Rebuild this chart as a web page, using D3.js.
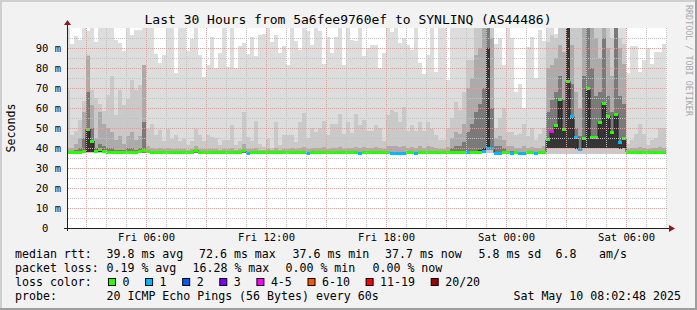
<!DOCTYPE html>
<html>
<head>
<meta charset="utf-8">
<script src="https://cdn.jsdelivr.net/npm/d3@7"></script>
<style>
  body { margin: 0; background: #f2f2f2; }
  svg { display: block; }
  text { font-family: "DejaVu Sans Mono", monospace; fill: #000; }
</style>
</head>
<body>
<div id="chart"></div>
<script>
// ---- data: one value per 12 minute slot, starting Fri 02:00 (ms) ----
const rttMin = [
  37.2,37.2,37.3,37.3,37.3,37.4,37.4,37.3,37.3,37.3,
  37.3,37.3,37.3,37.3,37.3,37.3,37.3,37.3,37.3,37.3,
  37.3,37.3,37.3,37.3,37.3,37.3,37.3,37.3,37.3,37.3,
  37.3,37.3,37.3,37.3,37.3,37.3,37.3,37.3,37.3,37.3,
  37.3,37.3,37.3,37.3,37.3,37.2,37.3,37.3,37.3,37.3,
  37.3,37.3,37.3,37.3,37.3,37.3,37.3,37.3,37.3,37.3,
  37.2,37.3,37.3,37.3,37.3,37.3,37.3,37.3,37.3,37.3,
  37.3,37.3,37.3,37.2,37.3,37.3,37.3,37.3,37.3,37.3,
  37.3,37.2,37.2,37.2,37.2,37.3,37.3,37.2,37.3,37.3,
  37.3,37.3,37.3,37.3,37.3,37.3,37.3,37.3,37.3,37.3,
  37.2,37.3,37.3,37.3,37.3,37.3,37.3,37.2,37.2,37.3,
  37.3,37.2,37.3,37.2,37.2,37.3,37.3,37.2,37.3,37.3,
  37.0,37.0,37.0,37.0,37.0,37.0,37.0,37.0,37.0,37.0,
  37.0,37.0,37.0,37.0,37.0,37.0,37.0,37.0,37.0,37.0,
  37.3,37.3,37.3,37.3,37.3,37.3,37.3,37.3,37.3,37.3
];
const rttMax = [
  100,92,96,94,100,98.5,100,93,100,100,
  100,100,94,92.5,88.5,100,96.5,99,99,100,
  100,100,87,82.5,86.5,100,100,77.5,100,100,
  88.5,94.5,100,86.5,75.5,81.5,95.5,80,87.5,100,
  80.5,100,80,91,92.5,87,95.5,86,96.5,97,
  100,93,96.5,87.5,91,81.5,100,93.5,89,100,
  98.5,91.5,100,98.5,82,95.5,87.5,95.5,100,81.5,
  100,94,93.5,100,86,90,91.5,91.5,80,87.5,
  100,98,100,92.5,95,91.5,89,100,82.5,77,
  86.5,100,78,100,100,74,100,100,100,100,
  100,100,100,100,100,100,100,92,95,81.5,
  100,95,68,72,60,90.5,95.5,75,99,93.5,
  100,100,97,100,100,100,100,100,100,100,
  100,100,100,100,100,100,100,100,100,100,
  77.5,91,91,78,84,90,82,88,88,92
];
const rttQ90 = [
  69,46.5,48.5,54,63.5,86.5,69,65,62,58.5,
  66.5,76,56.5,69,61.5,64.5,74,69,71.5,81.5,
  49.5,52,46.5,49,43.5,49.5,44.5,46.5,43.5,44.5,
  41.5,43.5,49.5,46.5,43.5,46.5,45.5,45,41.5,44,
  44,51.5,41.5,43.5,58,45.5,43.5,53.5,42,40.5,
  44.5,40,53,41.5,46.5,46.5,46.5,43,53,57.5,
  45,50,48,50,53.5,46.5,52,52,57,47,
  53,47.5,57,51.5,54,48.5,48.5,51.5,50,43.5,
  56.5,59,58,53,60.5,48.5,51.5,48.5,53,48.5,
  53,49.5,46.5,44,44,50,55,63,59,68,
  84,84,100,100,100,100,100,50,55,60,
  48,48,46.5,47,52,46,50,44,47,50,
  93,96.5,95,100,100,100,100,100,100,100,
  100,100,100,100,100,100,95,100,95,92,
  42,44,47,52,47,41.5,44,45,50,50
];
const rttQ75 = [
  40,40,42,45,58,86,61.5,45,58,52,
  50,48,44,46,42,46,48,44,46,81.5,
  41,40,39.5,40,39.5,40,39.5,39.5,39.5,39.5,
  39,39.5,41,39.5,39.5,39.5,39.5,39.5,39,39.5,
  39.5,40,39,39.5,42,39.5,39.5,40,39,39,
  39.5,39,40,39,39.5,39.5,40,39.5,40,40.5,
  39.5,40,40,40,40.5,39.5,40,40,40.5,39.5,
  40,40,40.5,40,40.5,40,40,40.5,40,39.5,
  41,41,41,40.5,41,40,40.5,40,41,40,
  41,40.5,40,39.5,39.5,40.5,45,48,47,52,
  70,75,86.5,90,100,100,95,45,46,44,
  41,41,40,40,41,40,40.5,40,40,41,
  80,81.5,85,91.5,88,100,91.5,68,60,100,
  100,100,95,85,100,90,76,100,90,82,
  39.5,40,40,40.5,40,39.5,40,40,40.5,40
];
const rttQ60 = [
  38,38,39,40,45,68,50,40,42,41,
  40,40,39,39,39,40,40,39,40,53,
  38.5,38.2,38.2,38.2,38.2,38.2,38.2,38.2,38.2,38.2,
  38.2,38.2,38.5,38.2,38.2,38.2,38.2,38.2,38.2,38.2,
  38.2,38.2,38.2,38.2,39.5,38.2,38.2,38.2,38.2,38.2,
  38.2,38.2,38.2,38.2,38.2,38.2,38.2,38.2,38.2,38.2,
  38.2,38.2,38.2,38.2,38.2,38.2,38.2,38.2,38.2,38.2,
  38.2,38.2,38.2,38.2,38.2,38.2,38.2,38.2,38.2,38.2,
  38.2,38.2,38.2,38.2,38.2,38.2,38.2,38.2,38.2,38.2,
  38.2,38.2,38.2,38.2,38.2,38.2,40,41,41,43,
  48,52,58,62,70,100,60,41,41,40,
  38.5,38.5,38.2,38.2,38.2,38.2,38.2,38.2,38.2,38.2,
  58,64,68,76,64,100,72,50,46,76,
  100,80,66,68,95,66,58,100,66,62,
  38.2,38.2,38.2,38.2,38.2,38.2,38.2,38.2,38.2,38.2
];
const rttQ55 = [
  37.5,37.5,37.5,37.5,38,49.5,43.5,38,39.5,37.5,
  37.5,37.5,37.5,37.5,37.5,37.5,37.5,37.5,37.5,37.5,
  37.5,37.5,37.5,37.5,37.5,37.5,37.5,37.5,37.5,37.5,
  37.5,37.5,37.5,37.5,37.5,37.5,37.5,37.5,37.5,37.5,
  37.5,37.5,37.5,37.5,37.5,37.5,37.5,37.5,37.5,37.5,
  37.5,37.5,37.5,37.5,37.5,37.5,37.5,37.5,37.5,37.5,
  37.5,37.5,37.5,37.5,37.5,37.5,37.5,37.5,37.5,37.5,
  37.5,37.5,37.5,37.5,37.5,37.5,37.5,37.5,37.5,37.5,
  37.5,37.5,37.5,37.5,37.5,37.5,37.5,37.5,37.5,37.5,
  37.5,37.5,37.5,37.5,37.5,37.5,37.5,37.5,37.5,37.5,
  37.5,37.5,38,39,40,90,40,37.5,37.5,37.5,
  37.5,37.5,37.5,37.5,37.5,37.5,37.5,37.5,37.5,37.5,
  44,48,51,64,49.5,100,55.7,45,39.5,45,
  70,45.3,45.5,53,62,56,48,57,43,45,
  37.5,37.5,37.5,37.5,37.5,37.5,37.5,37.5,37.5,37.5
];
// lower edge of the inner (darker) smoke bands
const rttLo = [
  37.4,37.4,37.6,37.6,37.8,38,38,37.8,37.8,37.6,
  37.5,37.5,37.5,37.5,37.5,37.5,37.5,37.5,37.5,37.5,
  37.5,37.5,37.5,37.5,37.5,37.5,37.5,37.5,37.5,37.5,
  37.5,37.5,37.5,37.5,37.5,37.5,37.5,37.5,37.5,37.5,
  37.5,37.5,37.5,37.5,37.5,37.5,37.5,37.5,37.5,37.5,
  37.5,37.5,37.5,37.5,37.5,37.5,37.5,37.5,37.5,37.5,
  37.5,37.5,37.5,37.5,37.5,37.5,37.5,37.5,37.5,37.5,
  37.5,37.5,37.5,37.5,37.5,37.5,37.5,37.5,37.5,37.5,
  37.5,37.5,37.5,37.5,37.5,37.5,37.5,37.5,37.5,37.5,
  37.5,37.5,37.5,37.5,37.5,37.5,37.5,37.5,37.5,37.5,
  37.5,37.5,38,38,39,39,39,37.5,37.5,37.5,
  37.5,37.5,37.5,37.5,37.5,37.5,37.5,37.5,37.5,37.5,
  40,40,40,40,40,40,40,39.5,39.5,40,
  40,40,40,40,40,40,40,40,39.5,40,
  37.5,37.5,37.5,37.5,37.5,37.5,37.5,37.5,37.5,37.5
];
const rttMedian = [
  37.7,37.7,38.0,38.0,38.2,49.5,43.5,38.5,39.5,38.2,
  38.0,38.0,38.0,38.0,38.0,38.0,38.0,38.0,38.2,39.0,
  38.4,38.0,38.0,38.0,38.0,38.0,38.0,38.0,38.0,38.0,
  38.0,38.0,38.8,38.0,38.0,38.0,38.0,38.0,38.0,38.0,
  38.0,38.0,38.0,38.0,38.6,37.5,38.0,38.0,38.0,38.0,
  38.0,38.0,38.0,38.0,38.0,38.0,38.0,38.0,38.0,38.0,
  37.5,38.0,38.0,38.0,38.0,38.0,38.0,38.0,38.0,38.0,
  38.0,38.0,38.0,37.5,38.0,38.0,38.0,38.0,38.0,38.0,
  38.0,37.5,37.5,37.5,37.5,38.0,38.0,37.5,38.0,38.0,
  38.0,38.0,38.0,38.0,38.0,38.0,38.0,38.0,38.0,38.0,
  37.7,38.0,38.0,38.0,38.5,39.8,39.8,37.5,37.5,38.0,
  38.0,37.5,38.0,37.5,37.5,38.0,38.0,37.5,38.0,38.0,
  44.2,48.2,51.2,64.3,49.5,73.2,55.7,45.2,39.3,44.8,
  69.7,45.3,45.5,53.0,62.3,56.0,47.8,56.8,42.7,45.0,
  38.0,38.0,38.0,38.0,38.0,38.0,38.0,38.0,38.0,38.0
];
// index into lossLabels / lossColors
const lossIdx = [
  0,0,0,0,0,0,0,0,0,0,
  0,0,0,0,0,0,0,0,0,0,
  0,0,0,0,0,0,0,0,0,0,
  0,0,0,0,0,0,0,0,0,0,
  0,0,0,0,0,1,0,0,0,0,
  0,0,0,0,0,0,0,0,0,0,
  1,0,0,0,0,0,0,0,0,0,
  0,0,0,1,0,0,0,0,0,0,
  0,1,1,1,1,0,0,1,0,0,
  0,0,0,0,0,0,0,0,0,0,
  1,0,0,0,1,1,1,1,1,0,
  0,1,0,1,1,0,0,1,0,0,
  0,4,0,0,0,0,1,1,1,0,
  0,0,0,0,0,0,0,0,1,0,
  0,0,0,0,0,0,0,0,0,0
];

const lossLabels = ["0", "1", "2", "3", "4-5", "6-10", "11-19", "20/20"];
const lossColors = ["#26ff00", "#00b8ff", "#0059ff", "#7e00ff", "#ff00ff", "#ff5500", "#ff0000", "#a10000"];

const yTickValues = [0, 10, 20, 30, 40, 50, 60, 70, 80, 90];
const yTickLabels = [" 0  ", "10 m", "20 m", "30 m", "40 m", "50 m", "60 m", "70 m", "80 m", "90 m"];

const titleText = "Last 30 Hours from 5a6fee9760ef to SYNLINQ (AS44486)";
const rttStats = ["39.8 ms avg", "72.6 ms max", "37.6 ms min", "37.7 ms now", "5.8 ms sd", "6.8", "am/s"];
const lossStats = ["0.19 % avg", "16.28 % max", "0.00 % min", "0.00 % now"];
const probeText = "20 ICMP Echo Pings (56 Bytes) every 60s";
const stampText = "Sat May 10 08:02:48 2025";

// ---- layout ----
const W = 697, H = 310;
const plot = { left: 67, top: 28, width: 600, height: 200 };

const tStart = new Date(2025, 4, 9, 2, 2, 48);
const tEnd = new Date(2025, 4, 10, 8, 2, 48);
const slotStart = new Date(2025, 4, 9, 2, 0, 0);
const slotMinutes = 12;

const x = d3.scaleTime().domain([tStart, tEnd]).range([plot.left, plot.left + plot.width]);
const y = d3.scaleLinear().domain([0, 100]).range([plot.top + plot.height, plot.top]);

const slots = rttMedian.map((m, i) => ({
    t0: d3.timeMinute.offset(slotStart, i * slotMinutes),
    t1: d3.timeMinute.offset(slotStart, (i + 1) * slotMinutes),
    i: i
}));

const svg = d3.select("#chart").append("svg")
    .attr("width", W)
    .attr("height", H);

// dotted grid patterns (1 on / 1 off)
const defs = svg.append("defs");
[["gH", "#c2c2c2", 2, 1], ["rH", "#e39c9c", 2, 1], ["gV", "#c2c2c2", 1, 2], ["rV", "#e39c9c", 1, 2]]
    .forEach(([id, col, pw, ph]) => {
        defs.append("pattern")
            .attr("id", id)
            .attr("patternUnits", "userSpaceOnUse")
            .attr("width", pw).attr("height", ph)
            .append("rect")
            .attr("width", 1).attr("height", 1)
            .attr("fill", col);
    });

// background + 3d border
svg.append("rect").attr("width", W).attr("height", H).attr("fill", "#f2f2f2");
svg.append("path").attr("d", `M0,0H${W}V2H2V${H}H0Z`).attr("fill", "#cfcfcf");
svg.append("path").attr("d", `M${W},${H}H0V${H - 2}H${W - 2}V0H${W}Z`).attr("fill", "#9e9e9e");

// canvas
svg.append("rect")
    .attr("x", plot.left).attr("y", plot.top)
    .attr("width", plot.width).attr("height", plot.height)
    .attr("fill", "#ffffff");

svg.append("clipPath").attr("id", "plotClip")
    .append("rect")
    .attr("x", plot.left).attr("y", plot.top)
    .attr("width", plot.width).attr("height", plot.height);

const g = svg.append("g").attr("clip-path", "url(#plotClip)");

// smoke bands, outer (light) to inner (dark)
const bands = [
    { hi: rttMax, lo: rttMin, color: "#dddddd" },
    { hi: rttQ90, lo: rttMin, color: "#c9c9c9" },
    { hi: rttQ75, lo: rttLo, color: "#ababab" },
    { hi: rttQ60, lo: rttLo, color: "#7a7a7a" },
    { hi: rttQ55, lo: rttLo, color: "#353535" }
];

bands.forEach(b => {
    g.append("g")
        .attr("shape-rendering", "crispEdges")
        .selectAll("rect")
        .data(slots)
        .enter().append("rect")
        .attr("x", d => x(d.t0))
        .attr("width", d => x(d.t1) - x(d.t0))
        .attr("y", d => y(b.hi[d.i]))
        .attr("height", d => Math.max(0, y(b.lo[d.i]) - y(b.hi[d.i])))
        .attr("fill", b.color);
});

// grid (drawn over the smoke, like rrdtool)
const gridG = svg.append("g").attr("shape-rendering", "crispEdges");
const hourTicks = x.ticks(d3.timeHour.every(1));
const majorHours = x.ticks(d3.timeHour.every(3)).map(d => +d);

gridG.selectAll(".vgrid")
    .data(hourTicks)
    .enter().append("rect")
    .attr("class", "vgrid")
    .attr("x", d => Math.round(x(d)))
    .attr("y", plot.top)
    .attr("width", 1)
    .attr("height", plot.height)
    .attr("fill", d => majorHours.includes(+d) ? "url(#rV)" : "url(#gV)");

const hGrid = d3.range(5, 100, 5);
gridG.selectAll(".hgrid")
    .data(hGrid)
    .enter().append("rect")
    .attr("class", "hgrid")
    .attr("x", plot.left)
    .attr("y", d => Math.round(y(d)))
    .attr("width", plot.width)
    .attr("height", 1)
    .attr("fill", d => d % 10 === 0 ? "url(#rH)" : "url(#gH)");

// median: black step line + loss coloured segments
const medPts = slots.map(d => [x(d.t0), y(rttMedian[d.i])]);
medPts.push([x(slots[slots.length - 1].t1), y(rttMedian[rttMedian.length - 1])]);
g.append("path")
    .attr("d", d3.line().curve(d3.curveStepAfter)(medPts))
    .attr("fill", "none")
    .attr("stroke", "#202020")
    .attr("stroke-width", 1);

g.append("g")
    .attr("shape-rendering", "crispEdges")
    .selectAll("rect")
    .data(slots)
    .enter().append("rect")
    .attr("x", d => x(d.t0))
    .attr("width", d => x(d.t1) - x(d.t0))
    .attr("y", d => y(rttMedian[d.i]) - 1.5)
    .attr("height", 3)
    .attr("fill", d => lossColors[lossIdx[d.i]]);

// axes
const yAxis = d3.axisLeft(y)
    .tickValues(yTickValues)
    .tickFormat((d, i) => yTickLabels[i])
    .tickSize(0)
    .tickPadding(6);

svg.append("g")
    .attr("transform", `translate(${plot.left},0)`)
    .call(yAxis)
    .call(a => a.select(".domain").remove())
    .selectAll("text")
    .attr("font-family", "DejaVu Sans Mono")
    .attr("font-size", "10.5px")
    .attr("fill", "#000")
    .style("white-space", "pre");

const xAxis = d3.axisBottom(x)
    .ticks(d3.timeHour.every(6))
    .tickFormat(d3.timeFormat("%a %H:%M"))
    .tickSize(0)
    .tickPadding(6);

svg.append("g")
    .attr("transform", `translate(0,${plot.top + plot.height})`)
    .call(xAxis)
    .call(a => a.select(".domain").remove())
    .selectAll("text")
    .attr("font-family", "DejaVu Sans Mono")
    .attr("font-size", "10.5px")
    .attr("fill", "#000");

// axis lines with arrows
const axisG = svg.append("g").attr("shape-rendering", "crispEdges");
axisG.append("line")
    .attr("x1", plot.left - 3).attr("x2", plot.left + plot.width + 3)
    .attr("y1", plot.top + plot.height + 0.5).attr("y2", plot.top + plot.height + 0.5)
    .attr("stroke", "#1f1f1f");
axisG.append("line")
    .attr("x1", plot.left + 0.5).attr("x2", plot.left + 0.5)
    .attr("y1", plot.top + plot.height + 3).attr("y2", plot.top - 4)
    .attr("stroke", "#1f1f1f");
svg.append("path")
    .attr("d", `M${plot.left + plot.width + 2},${plot.top + plot.height - 3}L${plot.left + plot.width + 8},${plot.top + plot.height + 0.5}L${plot.left + plot.width + 2},${plot.top + plot.height + 4}Z`)
    .attr("fill", "#8b1a1a");
svg.append("path")
    .attr("d", `M${plot.left - 3},${plot.top - 3}L${plot.left + 0.5},${plot.top - 8}L${plot.left + 4},${plot.top - 3}Z`)
    .attr("fill", "#8b1a1a");

// title
svg.append("text")
    .attr("x", 348)
    .attr("y", 24)
    .attr("text-anchor", "middle")
    .attr("font-size", "13px")
    .text(titleText);

// vertical axis title
svg.append("text")
    .attr("transform", "translate(15,128) rotate(-90)")
    .attr("text-anchor", "middle")
    .attr("font-size", "11.6px")
    .text("Seconds");

// watermark
svg.append("text")
    .attr("transform", "translate(686,5) rotate(90)")
    .attr("font-size", "8.4px")
    .style("fill", "#a8a8a8")
    .text("RRDTOOL / TOBI OETIKER");

// legend
const legendFont = "11.6px";
const lines = [258, 272, 286, 300];
const leg = svg.append("g").attr("font-size", legendFont);

function putText(str, px, py) {
    leg.append("text").attr("x", px).attr("y", py).style("white-space", "pre").text(str);
}

putText("median rtt:", 15, lines[0]);
[106.5, 199, 292.5, 385, 478.5, 555.5, 599].forEach((px, i) => putText(rttStats[i], px, lines[0]));

putText("packet loss:", 15, lines[1]);
[106.5, 192.5, 285.5, 372.5].forEach((px, i) => putText(lossStats[i], px, lines[1]));

putText("loss color:", 15, lines[2]);
let sx = 108.5;
lossLabels.forEach((lab, i) => {
    leg.append("rect")
        .attr("x", sx).attr("y", 278.5)
        .attr("width", 7).attr("height", 7)
        .attr("fill", lossColors[i])
        .attr("stroke", "#000")
        .attr("stroke-width", 1);
    putText(lab, sx + 14, lines[2]);
    sx += (lab.length + 4.3) * 7.0;
});

putText("probe:", 15, lines[3]);
putText(probeText, 106.5, lines[3]);
leg.append("text")
    .attr("x", 681)
    .attr("y", lines[3])
    .attr("text-anchor", "end")
    .text(stampText);
</script>
</body>
</html>
